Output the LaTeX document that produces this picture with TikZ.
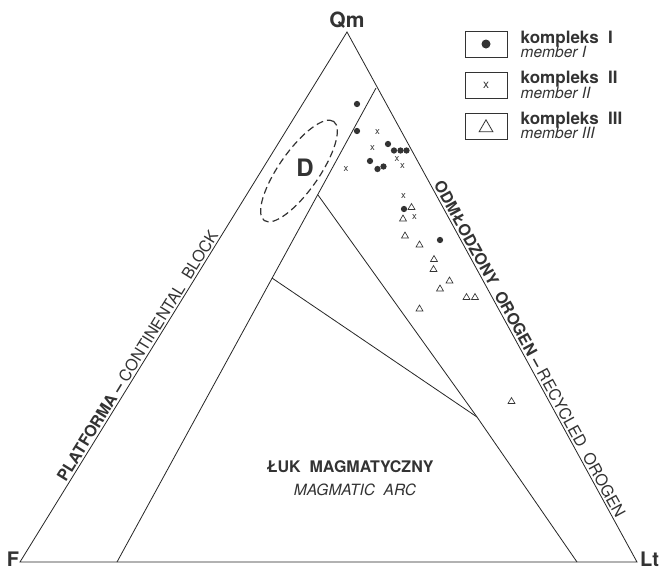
\documentclass[tikz,border=0pt]{standalone}
\usepackage{fontspec}
\setmainfont{TeX Gyre Heros}
\usetikzlibrary{shapes.geometric,calc}
\definecolor{ink}{gray}{0.2}
\definecolor{ln}{gray}{0.15}
\begin{document}
\begin{tikzpicture}[x=1pt,y=-1pt,
  edge/.style={draw=ln, line width=0.8pt},
  dotm/.style={circle, fill=ink, inner sep=0pt, minimum size=6.3pt},
  crossm/.style={font=\fontsize{9.5}{9.5}\selectfont, text=ink, inner sep=0pt},
  trim/.style={regular polygon, regular polygon sides=3, draw=ink, line width=0.65pt, inner sep=0pt, minimum size=8pt},
  lbl/.style={text=ink, inner sep=0pt},
  legbox/.style={draw=ink, line width=1pt, minimum width=42pt, minimum height=26pt, inner sep=0pt},
  sidetxt/.style={text=ink, inner sep=0pt, anchor=base, font=\fontsize{16}{16}\selectfont}
]
\useasboundingbox[fill=white] (0,0) rectangle (662,571);
% vertices and field boundaries
\coordinate (F) at (20,562);
\coordinate (Lt) at (637,562);
\coordinate (Qm) at (347,32);
\coordinate (A1) at (376,88);
\coordinate (A2) at (117,562);
\coordinate (B1) at (318,195);
\coordinate (C1) at (272,278);
\coordinate (J) at (477,417);
\coordinate (D2) at (577,562);
\draw[edge] (F) -- (Qm) -- (Lt) -- cycle;
\draw[edge] (A1) -- (A2);
\draw[edge] (B1) -- (J);
\draw[edge] (C1) -- (J);
\draw[edge] (J) -- (D2);
% D field
\node[ellipse, draw=ink, dashed, dash pattern=on 7pt off 4pt, line width=1.2pt,
      minimum width=121pt, minimum height=40pt, rotate=55] (Dfield) at (299,171) {};
\node[lbl, font=\bfseries\fontsize{24}{24}\selectfont] (lD) at (305,168) {D};
% corner labels
\node[lbl, font=\bfseries\fontsize{21}{21}\selectfont] (lQm) at (347,20) {Qm};
\node[lbl, font=\bfseries\fontsize{20}{20}\selectfont] (lF) at (13,559.5) {F};
\node[lbl, font=\bfseries\fontsize{20}{20}\selectfont] (lLt) at (649.5,559.5) {Lt};
% field labels
\node[lbl, font=\bfseries\fontsize{16}{16}\selectfont] (luk) at (350,467) {ŁUK\ \ MAGMATYCZNY};
\node[lbl, font=\itshape\fontsize{15.5}{15.5}\selectfont] (arc) at (355,490) {MAGMATIC\ \ ARC};
\node[sidetxt, rotate=58.3] (lplat) at (142.3,359) {\textbf{PLATFORMA -- }CONTINENTAL\ \ BLOCK};
\node[sidetxt, rotate=-61.3] (lorog) at (524.8,351.7) {\textbf{ODMŁODZONY\ \ OROGEN -- }RECYCLED\ \ OROGEN};
% data
\foreach \p [count=\i] in {(357,104),(357,131),(388,144),(394,150.5),(400.5,150.5),(406.5,150.5),(370,161),(377.5,169),(383.5,166.5),(404,209),(440,240)}
  \node[dotm] (dot\i) at \p {};
\foreach \p [count=\i] in {(377.5,132.5),(372.5,148.5),(397,159.5),(402.5,166.5),(346,169.5),(403.5,196.5),(414.5,217.5)}
  \node[crossm] (crs\i) at \p {x};
\foreach \p [count=\i] in {(411.5,207.5),(403,219),(405,236),(419.5,245),(434,259.5),(433.5,269.5),(449.5,281),(440,289),(466.5,297.5),(475,297.5),(419.5,309),(511.5,401.5)}
  \node[trim] (tri\i) at \p {};
% legend
\node[legbox] (box1) at (486,44) {};
\node[legbox] (box2) at (486,85.3) {};
\node[legbox] (box3) at (486,126.3) {};
\node[dotm, minimum size=9pt] (ldot) at (box1) {};
\node[crossm, font=\fontsize{12}{12}\selectfont] (lcrs) at (box2) {x};
\node[trim, minimum size=16pt, line width=0.8pt] (ltri) at ($(box3)+(0,1.5)$) {};
\node[lbl, anchor=base west, font=\bfseries\fontsize{17}{17}\selectfont] (k1) at (520.5,43.5) {kompleks\ \ I};
\node[lbl, anchor=base west, font=\itshape\fontsize{15.5}{15.5}\selectfont] (m1) at (520.5,57.5) {member\ I};
\node[lbl, anchor=base west, font=\bfseries\fontsize{17}{17}\selectfont] (k2) at (520.5,83.5) {kompleks\ \ II};
\node[lbl, anchor=base west, font=\itshape\fontsize{15.5}{15.5}\selectfont] (m2) at (520.5,98.3) {member\ II};
\node[lbl, anchor=base west, font=\bfseries\fontsize{17}{17}\selectfont] (k3) at (520.5,124) {kompleks\ \ III};
\node[lbl, anchor=base west, font=\itshape\fontsize{15.5}{15.5}\selectfont] (m3) at (520.5,138.7) {member\ III};
\end{tikzpicture}
\end{document}
